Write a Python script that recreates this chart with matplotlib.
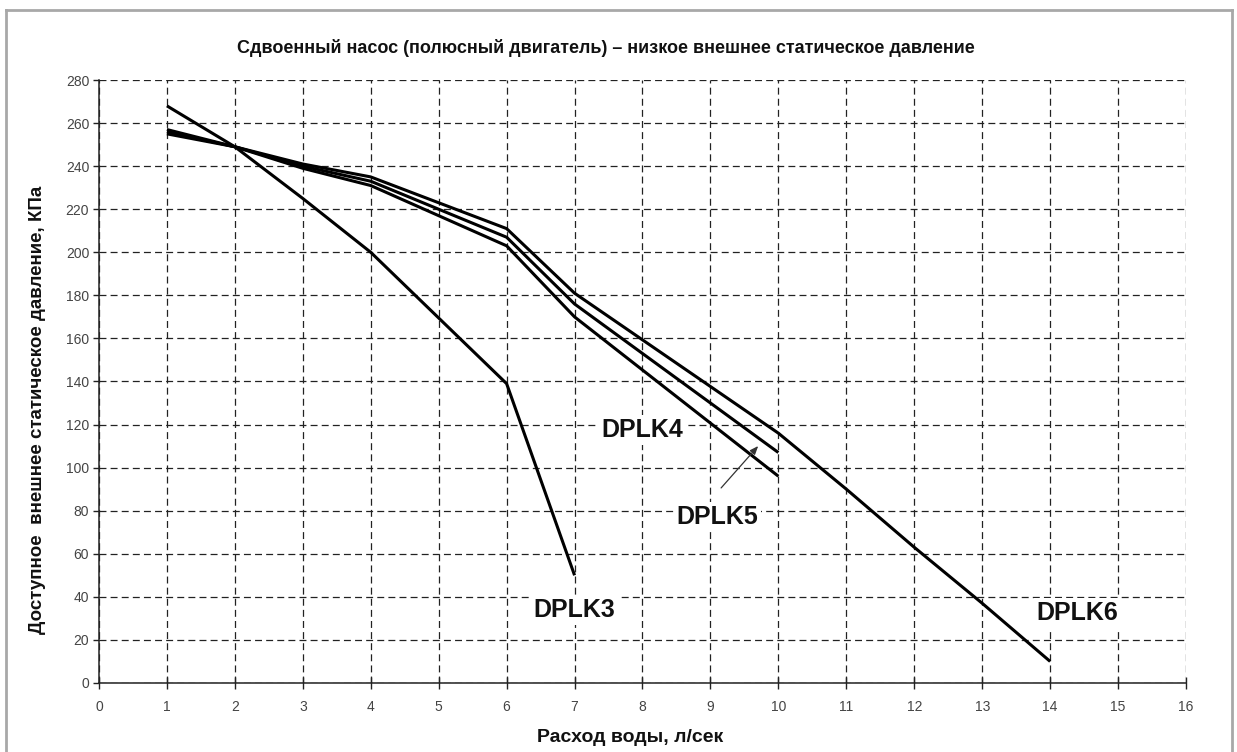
import matplotlib
matplotlib.use("Agg")
import matplotlib.pyplot as plt
from matplotlib.lines import Line2D

# pump curves: water flow (l/s) vs available external static pressure (kPa)
dplk3_flow = [1, 2, 3, 4, 6, 7]
dplk3_head = [268, 249, 225, 200, 139, 50]

dplk45_flow = [1, 2, 3, 4, 6, 7, 10]
dplk4_head = [255, 249, 239, 231, 203, 170, 96]
dplk5_head = [256, 249, 240, 233, 207, 176, 107]

dplk6_flow = [1, 2, 3, 4, 6, 7, 10, 11, 12, 13, 14]
dplk6_head = [257, 249, 241, 235, 211, 181, 116, 90, 63, 37, 10]

x_ticks = list(range(0, 17))
y_ticks = list(range(0, 281, 20))

TITLE = "Сдвоенный насос (полюсный двигатель) – низкое внешнее статическое давление"
XLABEL = "Расход воды, л/сек"
YLABEL = "Доступное  внешнее статическое давление, КПа"

plt.rcParams["font.family"] = ["Liberation Sans", "DejaVu Sans"]
plt.rcParams["lines.scale_dashes"] = False

fig = plt.figure(figsize=(12.37, 7.52), dpi=100)
ax = fig.add_axes([0.0800, 0.0918, 0.8788, 0.8018])

ax.set_xlim(0, 16)
ax.set_ylim(0, 280)
ax.set_xticks(x_ticks)
ax.set_yticks(y_ticks)

ax.grid(True, color="#222222", linestyle=(0, (5, 3)), linewidth=0.9)
ax.set_axisbelow(True)
for side in ("top", "right"):
    ax.spines[side].set_visible(False)
for side in ("left", "bottom"):
    ax.spines[side].set_linewidth(1.1)
    ax.spines[side].set_color("#222222")
    ax.spines[side].set_zorder(3)

ax.tick_params(axis="x", direction="inout", length=8, width=1.0,
               colors="#222222", labelcolor="#444444", labelsize=10, pad=8)
ax.tick_params(axis="y", direction="out", length=4, width=1.0,
               colors="#222222", labelcolor="#444444", labelsize=10, pad=3)

curve = dict(color="black", linewidth=2.2, solid_joinstyle="round",
             solid_capstyle="butt", zorder=4)
ax.plot(dplk3_flow, dplk3_head, **curve)
ax.plot(dplk45_flow, dplk4_head, **curve)
ax.plot(dplk45_flow, dplk5_head, **curve)
ax.plot(dplk6_flow, dplk6_head, **curve)

box = dict(facecolor="white", edgecolor="none", pad=2)
label_style = dict(fontsize=18, fontweight="bold", ha="center", va="center",
                   color="#111111", bbox=box, zorder=5)
ax.text(8.0, 117.5, "DPLK4", **label_style)
ax.text(9.1, 77, "DPLK5", **label_style)
ax.text(7.0, 34, "DPLK3", **label_style)
ax.text(14.4, 32.5, "DPLK6", **label_style)

ax.annotate("", xy=(9.73, 111), xytext=(9.13, 89.6),
            arrowprops=dict(arrowstyle="-|>,head_length=0.5,head_width=0.2",
                            color="#333333", lw=0.9), zorder=5)

fig.text(0.49, 0.936, TITLE, ha="center", va="center", fontsize=13,
         fontweight="bold", color="#111111")
fig.text(0.509, 0.019, XLABEL, ha="center", va="center", fontsize=14,
         fontweight="bold", color="#111111")
fig.text(0.030, 0.455, YLABEL, ha="center", va="center", rotation=90,
         fontsize=13.5, fontweight="bold", color="#111111")

# thin grey frame around the page
frame = dict(color="#a8a8a8", linewidth=2.0, transform=fig.transFigure)
W, H = 1237.0, 752.0
fig.add_artist(Line2D([6 / W, 6 / W], [0, 1 - 10 / H], **frame))
fig.add_artist(Line2D([6 / W, 1232 / W], [1 - 10 / H, 1 - 10 / H], **frame))
fig.add_artist(Line2D([1232 / W, 1232 / W], [0, 1 - 10 / H], **frame))

fig.savefig("out.png", dpi=100, facecolor="white")
